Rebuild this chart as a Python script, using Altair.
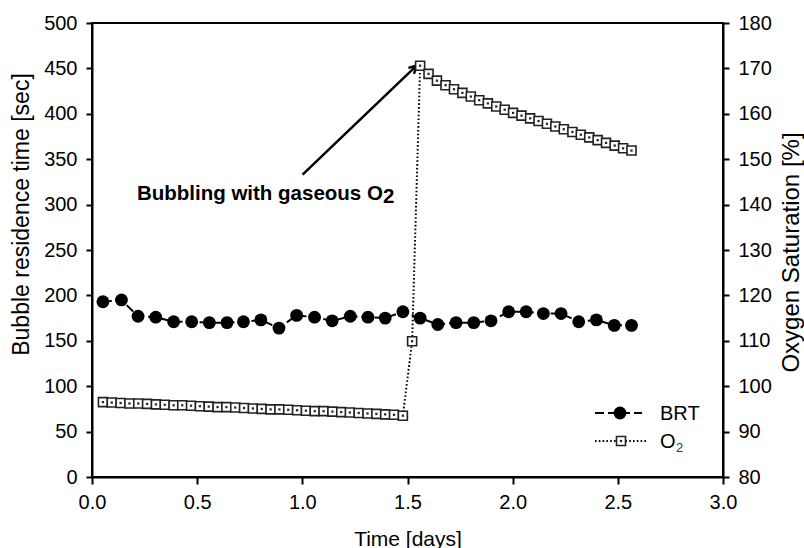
import altair as alt
import pandas as pd

# ---- data ----
brt_t = [0.052, 0.140, 0.219, 0.303, 0.388, 0.474, 0.558, 0.642, 0.720, 0.803,
         0.889, 0.973, 1.058, 1.142, 1.228, 1.312, 1.394, 1.478, 1.560, 1.644,
         1.731, 1.815, 1.897, 1.981, 2.064, 2.146, 2.230, 2.314, 2.398, 2.483, 2.565]
brt_v = [193, 195, 177, 176, 171, 171, 170, 170, 171, 173,
         164, 178, 176, 172, 177, 176, 175, 182, 175, 168,
         170, 170, 172, 182, 182, 180, 180, 171, 173, 167, 167]

o2_t = [0.052, 0.094, 0.136, 0.178, 0.220, 0.262, 0.304, 0.346, 0.388, 0.429,
        0.471, 0.513, 0.555, 0.597, 0.639, 0.681, 0.723, 0.765, 0.807, 0.849,
        0.891, 0.933, 0.975, 1.017, 1.059, 1.101, 1.143, 1.185, 1.226, 1.268,
        1.310, 1.352, 1.394, 1.436, 1.478,
        1.522,
        1.560, 1.600, 1.640, 1.681, 1.721, 1.761, 1.801, 1.841, 1.882, 1.922,
        1.962, 2.002, 2.042, 2.083, 2.123, 2.163, 2.203, 2.243, 2.284, 2.324,
        2.364, 2.404, 2.444, 2.485, 2.525, 2.565]
o2_v = [96.5, 96.4, 96.3, 96.2, 96.2, 96.1, 96.0, 95.9, 95.8, 95.8,
        95.7, 95.6, 95.5, 95.4, 95.4, 95.3, 95.2, 95.1, 95.0, 94.9,
        94.9, 94.8, 94.7, 94.6, 94.5, 94.5, 94.4, 94.3, 94.2, 94.1,
        94.0, 93.9, 93.8, 93.7, 93.5,
        109.9,
        170.6, 168.8, 167.3, 166.3, 165.4, 164.6, 163.8, 163.0, 162.3, 161.6,
        160.9, 160.2, 159.6, 159.0, 158.4, 157.8, 157.2, 156.6, 156.0, 155.4,
        154.8, 154.2, 153.6, 153.0, 152.4, 151.9]

x_ticks = [0.0, 0.5, 1.0, 1.5, 2.0, 2.5, 3.0]
left_ticks = list(range(0, 501, 50))
right_ticks = list(range(80, 181, 10))

annot_text = "Bubbling with gaseous O"
annot_sub = "2"
arrow_from = (1.001, 333)
arrow_to = (1.543, 453)

FONT = "Liberation Sans"

brt = pd.DataFrame({"t": brt_t, "v": brt_v})
o2 = pd.DataFrame({"t": o2_t, "v": o2_v})

xscale = alt.Scale(domain=[0, 3], nice=False, zero=False)
xaxis = alt.Axis(values=x_ticks, format=".1f", title="Time [days]",
                 tickSize=7, labelPadding=8, titleY=68, titleBaseline="alphabetic")
X = alt.X("t:Q", scale=xscale, axis=xaxis)

lscale = alt.Scale(domain=[0, 500], nice=False)
laxis = alt.Axis(values=left_ticks, format="d", title="Bubble residence time [sec]",
                 orient="left", tickSize=6, labelPadding=9, titleFontSize=23,
                 titleX=-71, titleY=191, titleAngle=270, titleAlign="center",
                 titleBaseline="middle")

rscale = alt.Scale(domain=[80, 180], nice=False, zero=False)
raxis = alt.Axis(values=right_ticks, format="d", title="Oxygen Saturation [%]",
                 orient="right", tickSize=6, labelPadding=9, titleFontSize=24,
                 titleX=68, titleY=229, titleAngle=270, titleAlign="center",
                 titleBaseline="middle")

brt_line = alt.Chart(brt).mark_line(color="black", strokeWidth=2, strokeDash=[9, 4]).encode(
    x=X, y=alt.Y("v:Q", scale=lscale, axis=laxis))
brt_pts = alt.Chart(brt).mark_point(shape="circle", filled=True, color="black", size=165, opacity=1).encode(
    x=alt.X("t:Q", scale=xscale), y=alt.Y("v:Q", scale=lscale))

arrow_df = pd.DataFrame({"t": [arrow_from[0]], "v": [arrow_from[1]],
                         "t2": [arrow_to[0]], "v2": [arrow_to[1]]})
arrow_line = alt.Chart(arrow_df).mark_rule(color="black", strokeWidth=2.5).encode(
    x=alt.X("t:Q", scale=xscale), y=alt.Y("v:Q", scale=lscale),
    x2="t2:Q", y2="v2:Q")
arrow_head = alt.Chart(arrow_df).mark_point(
    shape="M-0.55,1 L0,0 L0.55,1", filled=False, color="black", strokeWidth=2.5,
    size=220, angle=46, opacity=1).encode(
    x=alt.X("t2:Q", scale=xscale), y=alt.Y("v2:Q", scale=lscale))

annot_df = pd.DataFrame({"t": [1.383], "v": [305.0], "s": [annot_text], "s2": [annot_sub]})
annot_main = alt.Chart(annot_df).mark_text(
    font=FONT, fontSize=20.5, fontWeight="bold", align="right", baseline="alphabetic", color="black").encode(
    x=alt.X("t:Q", scale=xscale), y=alt.Y("v:Q", scale=lscale), text="s:N")
annot_2 = alt.Chart(annot_df).mark_text(
    font=FONT, fontSize=20.5, fontWeight="bold", align="left", baseline="alphabetic", color="black", dy=3).encode(
    x=alt.X("t:Q", scale=xscale), y=alt.Y("v:Q", scale=lscale), text="s2:N")

left_group = alt.layer(brt_line, brt_pts, arrow_line, arrow_head, annot_main, annot_2)

o2_line = alt.Chart(o2).mark_line(color="black", strokeWidth=2, strokeDash=[1.6, 2.2]).encode(
    x=alt.X("t:Q", scale=xscale), y=alt.Y("v:Q", scale=rscale, axis=raxis))
o2_pts = alt.Chart(o2).mark_point(shape="square", filled=False, fill="white", fillOpacity=1,
                                  stroke="#222222", strokeWidth=1.6, size=81, opacity=1).encode(
    x=alt.X("t:Q", scale=xscale), y=alt.Y("v:Q", scale=rscale))
o2_dots = alt.Chart(o2).mark_point(shape="square", filled=True, color="#222222", size=5, opacity=1).encode(
    x=alt.X("t:Q", scale=xscale), y=alt.Y("v:Q", scale=rscale))

# ---- legend (drawn in pixels) ----
leg_df = pd.DataFrame({"a": [0]})
leg_brt_line = alt.Chart(leg_df).mark_rule(color="black", strokeWidth=2, strokeDash=[9, 4]).encode(
    x=alt.value(503), x2=alt.value(550), y=alt.value(390))
leg_brt_pt = alt.Chart(leg_df).mark_point(shape="circle", filled=True, color="black", size=165, opacity=1).encode(
    x=alt.value(528), y=alt.value(390))
leg_brt_txt = alt.Chart(leg_df).mark_text(font=FONT, fontSize=20, align="left", baseline="middle", color="black").encode(
    x=alt.value(568), y=alt.value(391), text=alt.value("BRT"))
leg_o2_line = alt.Chart(leg_df).mark_rule(color="black", strokeWidth=2, strokeDash=[1.6, 2.2]).encode(
    x=alt.value(503), x2=alt.value(554), y=alt.value(418))
leg_o2_pt = alt.Chart(leg_df).mark_point(shape="square", filled=False, fill="white", fillOpacity=1,
                                         stroke="#222222", strokeWidth=1.6, size=81, opacity=1).encode(
    x=alt.value(529), y=alt.value(418))
leg_o2_dot = alt.Chart(leg_df).mark_point(shape="square", filled=True, color="#222222", size=5, opacity=1).encode(
    x=alt.value(529), y=alt.value(418))
leg_o2_txt = alt.Chart(leg_df).mark_text(font=FONT, fontSize=20, align="left", baseline="middle", color="black").encode(
    x=alt.value(568), y=alt.value(419), text=alt.value("O"))
leg_o2_sub = alt.Chart(leg_df).mark_text(font=FONT, fontSize=13, align="left", baseline="alphabetic", color="#333333").encode(
    x=alt.value(584), y=alt.value(429), text=alt.value("2"))

right_group = alt.layer(o2_line, o2_pts, o2_dots, leg_brt_line, leg_brt_pt, leg_brt_txt,
                        leg_o2_line, leg_o2_pt, leg_o2_dot, leg_o2_txt, leg_o2_sub)

chart = alt.layer(left_group, right_group).resolve_scale(y="independent").properties(
    width=631, height=454,
    padding={"left": 92, "top": 23, "right": 81, "bottom": 71},
    autosize=alt.AutoSizeParams(type="none"),
    background="white",
).configure_view(
    stroke="black", strokeWidth=2
).configure_axis(
    labelFont=FONT, titleFont=FONT, labelFontSize=20, titleFontSize=21,
    titleFontWeight="normal", labelColor="black", titleColor="black",
    domainColor="black", tickColor="black", domainWidth=2, tickWidth=2,
    grid=False, labelFlush=False, labelOverlap=False
)

chart.save("out.html", embed_options={"renderer": "svg", "actions": False})
